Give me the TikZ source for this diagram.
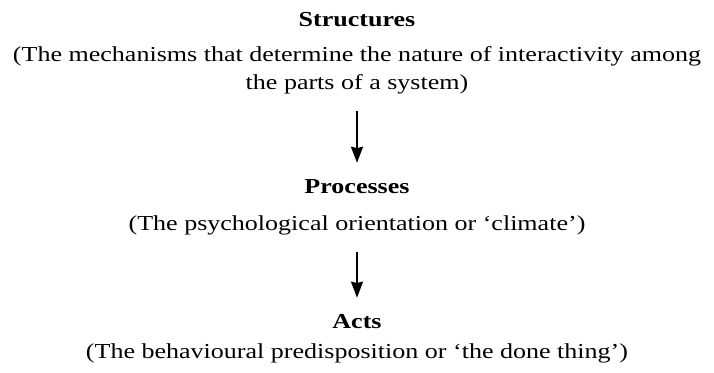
\documentclass[tikz,border=0pt]{standalone}
\usepackage{fontspec}
\setmainfont{Liberation Serif}[FakeStretch=1.22]
\usetikzlibrary{arrows.meta}
\begin{document}
\begin{tikzpicture}[x=1pt,y=1pt,
  heading/.style={font=\fontsize{16}{21}\selectfont\bfseries,inner sep=0pt,anchor=base},
  desc/.style={font=\fontsize{16}{21}\selectfont,inner sep=0pt,align=center,anchor=base},
  flow/.style={-{Stealth[length=12pt,width=9pt,inset=1pt]},line width=1.4pt,draw=black,shorten <=13pt,shorten >=12pt}]

\useasboundingbox (0,0) rectangle (535.5,-279);

\node[heading](structures) at (267.75,-19.5) {Structures};
\node[desc](structures text) at (267.75,-66.75) {(The mechanisms that determine the nature of interactivity among\\the parts of a system)};

\node[heading](processes) at (267.75,-144.75) {Processes};
\node[desc](processes text) at (267.75,-172.5) {(The psychological orientation or `climate')};

\node[heading](acts) at (267.75,-246) {Acts};
\node[desc](acts text) at (267.75,-268.5) {(The behavioural predisposition or `the done thing')};

\draw[flow] (structures text) to (processes);
\draw[flow] (processes text) to (acts);

\end{tikzpicture}
\end{document}
